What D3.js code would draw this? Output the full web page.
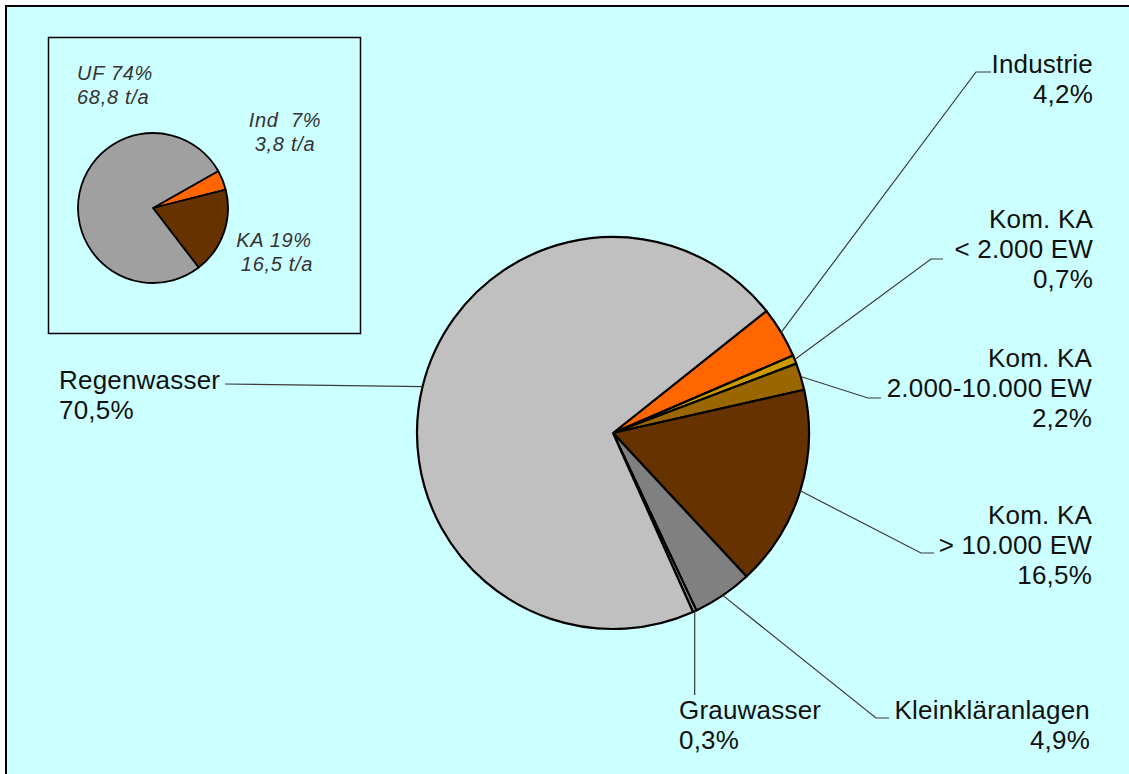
<!DOCTYPE html>
<html>
<head>
<meta charset="utf-8">
<script src="https://cdn.jsdelivr.net/npm/d3@7"></script>
<style>
  html, body { margin: 0; padding: 0; background: #ffffff; }
  svg { display: block; }
  text { font-family: "Liberation Sans", Arial, sans-serif; white-space: pre; }
</style>
</head>
<body>
<svg id="chart" width="1129" height="774"></svg>
<script>
// ---- data ----
const mainCategories = ["Industrie", "Kom. KA < 2.000 EW", "Kom. KA 2.000-10.000 EW", "Kom. KA > 10.000 EW", "Kleinkläranlagen", "Grauwasser", "Regenwasser"];
const mainValues = [4.2, 0.7, 2.2, 16.5, 4.9, 0.3, 70.5];
const mainLabels = [
  ["Industrie", "4,2%"],
  ["Kom. KA", "< 2.000 EW", "0,7%"],
  ["Kom. KA", "2.000-10.000 EW", "2,2%"],
  ["Kom. KA", "> 10.000 EW", "16,5%"],
  ["Kleinkläranlagen", "4,9%"],
  ["Grauwasser", "0,3%"],
  ["Regenwasser", "70,5%"]
];
const mainColors = ["#FF6600", "#CC9900", "#996600", "#663300", "#808080", "#969696", "#C0C0C0"];

const insetCategories = ["Ind", "KA", "UF"];
const insetValues = [3.8, 16.5, 68.8];
const insetLabels = [["Ind  7%", "3,8 t/a"], ["KA 19%", "16,5 t/a"], ["UF 74%", "68,8 t/a"]];
const insetColors = ["#FF6600", "#663300", "#A0A0A0"];

// ---- layout ----
const svg = d3.select("#chart");
const deg = Math.PI / 180;

svg.append("rect").attr("x", 0).attr("y", 0).attr("width", 1129).attr("height", 774).attr("fill", "#ffffff");
svg.append("rect").attr("x", 6).attr("y", 6).attr("width", 1140).attr("height", 790)
  .attr("fill", "#CCFFFF").attr("stroke", "#000").attr("stroke-width", 2);

// main pie
const mc = { x: 613, y: 433 }, mr = 196;
const mainStart = 51.5 * deg;
const mainPie = d3.pie().sort(null).value(d => d).startAngle(mainStart).endAngle(mainStart + 2 * Math.PI);
const mainArcs = mainPie(mainValues);
const mainArc = d3.arc().innerRadius(0).outerRadius(mr);

const gMain = svg.append("g").attr("transform", `translate(${mc.x},${mc.y})`);
gMain.selectAll("path").data(mainArcs).join("path")
  .attr("d", mainArc)
  .attr("fill", (d, i) => mainColors[i])
  .attr("stroke", "#000").attr("stroke-width", 2.2).attr("stroke-linejoin", "round");

// leader lines: from outer arc mid-angle to an elbow, then short horizontal
const elbows = [
  { ex: 976, ey: 72, hx: 991 },
  { ex: 931, ey: 259, hx: 943 },
  { ex: 868, ey: 398, hx: 881 },
  { ex: 921, ey: 553, hx: 934 },
  { ex: 876, ey: 718, hx: 889 },
  { ex: null, ey: 695, hx: null },
  { ex: 225, ey: 384, hx: 225 }
];
mainArcs.forEach((d, i) => {
  const a = (d.startAngle + d.endAngle) / 2;
  const px = mc.x + mr * Math.sin(a), py = mc.y - mr * Math.cos(a);
  const e = elbows[i];
  let pts;
  if (e.ex === null) pts = [[px, py], [px, e.ey]];
  else pts = [[px, py], [e.ex, e.ey], [e.hx, e.ey]];
  svg.append("path").attr("d", d3.line()(pts))
    .attr("fill", "none").attr("stroke", "#3a3a3a").attr("stroke-width", 1.2);
});

// main labels
const labelPos = [
  { x: 1093, y: 73, anchor: "end" },
  { x: 1093, y: 228, anchor: "end" },
  { x: 1092, y: 367, anchor: "end" },
  { x: 1092, y: 524, anchor: "end" },
  { x: 1090, y: 719, anchor: "end" },
  { x: 679, y: 719, anchor: "start" },
  { x: 59, y: 389, anchor: "start" }
];
mainLabels.forEach((lines, i) => {
  const p = labelPos[i];
  const t = svg.append("text").attr("x", p.x).attr("y", p.y)
    .attr("text-anchor", p.anchor)
    .attr("font-size", 26).attr("letter-spacing", 0.2).attr("fill", "#111");
  lines.forEach((s, j) => {
    t.append("tspan").attr("x", p.x).attr("dy", j === 0 ? 0 : 30).text(s);
  });
});

// inset box
svg.append("rect").attr("x", 48.5).attr("y", 37.5).attr("width", 312).attr("height", 296)
  .attr("fill", "none").attr("stroke", "#000").attr("stroke-width", 1.5);

const ic = { x: 153, y: 208 }, ir = 75;
const insetStart = 60.5 * deg;
const insetPie = d3.pie().sort(null).value(d => d).startAngle(insetStart).endAngle(insetStart + 2 * Math.PI);
const insetArc = d3.arc().innerRadius(0).outerRadius(ir);
const gInset = svg.append("g").attr("transform", `translate(${ic.x},${ic.y})`);
gInset.selectAll("path").data(insetPie(insetValues)).join("path")
  .attr("d", insetArc)
  .attr("fill", (d, i) => insetColors[i])
  .attr("stroke", "#000").attr("stroke-width", 1.8).attr("stroke-linejoin", "round");

const insetPos = [
  { x: 285, y: 127, anchor: "middle" },
  { x: 274, y: 247, anchor: "middle" },
  { x: 77, y: 80, anchor: "start" }
];
insetLabels.forEach((lines, i) => {
  const p = insetPos[i];
  const t = svg.append("text").attr("x", p.x).attr("y", p.y)
    .attr("text-anchor", p.anchor).attr("font-style", "italic")
    .attr("font-size", 20).attr("letter-spacing", 0.7).attr("fill", "#333")
    .attr("xml:space", "preserve");
  lines.forEach((s, j) => {
    t.append("tspan").attr("x", p.x + (i === 1 && j === 1 ? 3 : 0)).attr("dy", j === 0 ? 0 : 24).text(s);
  });
});
</script>
</body>
</html>
